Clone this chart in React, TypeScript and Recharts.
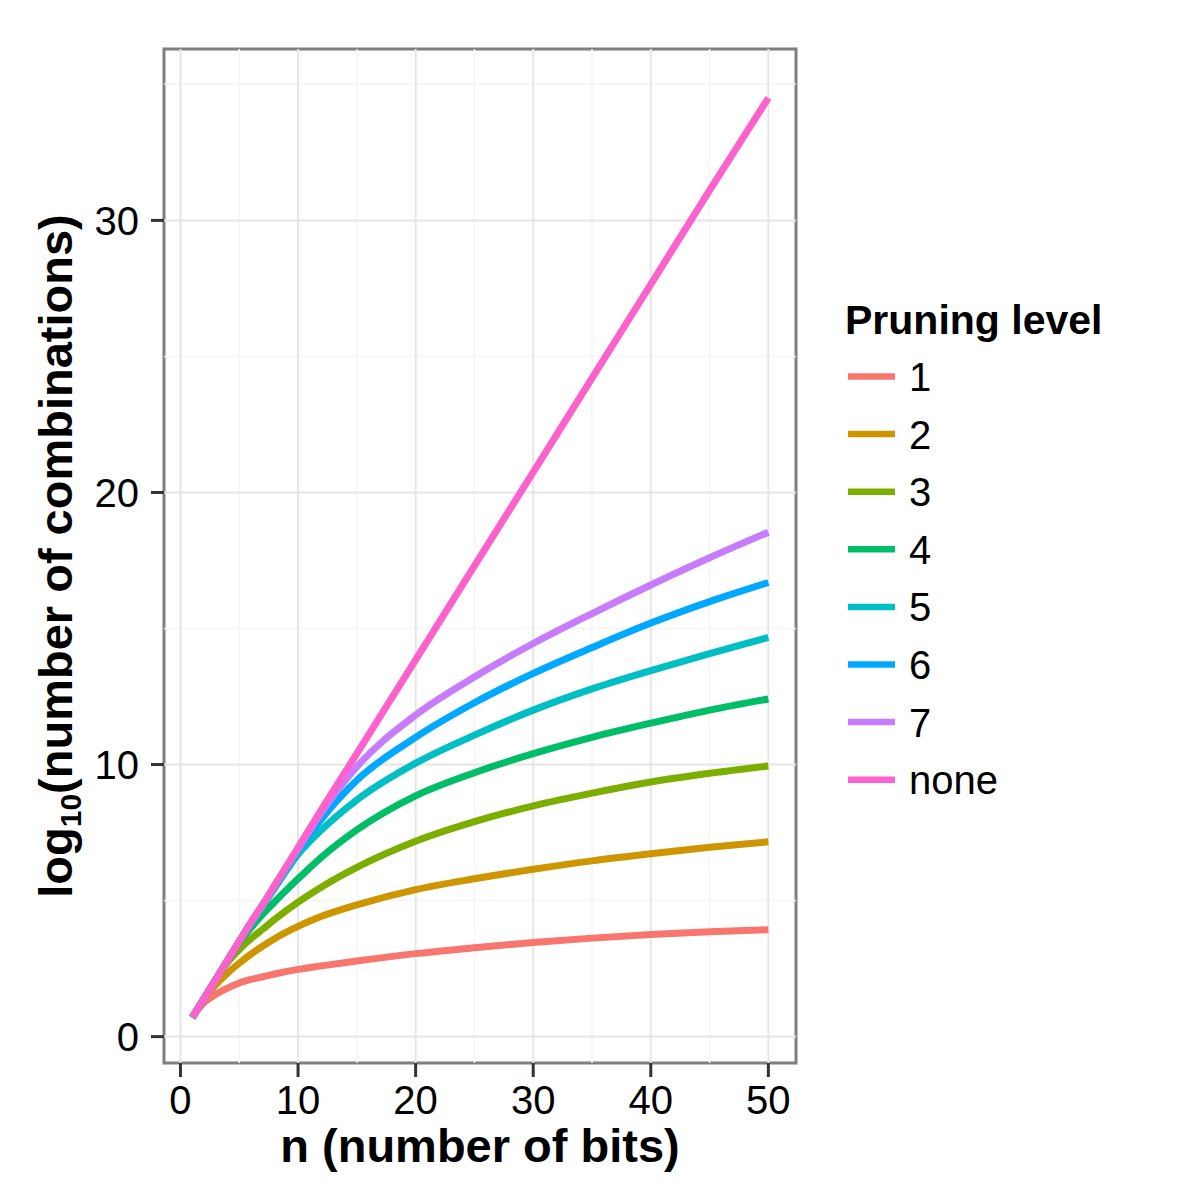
import React from 'react';
import { LineChart, Line, XAxis, YAxis, ReferenceLine, ReferenceArea, Label } from 'recharts';

const nBits = [1, 2, 3, 4, 5, 6, 7, 8, 10, 12, 15, 20, 25, 30, 35, 40, 45, 50];

const level1 = [0.7, 1.25, 1.55, 1.78, 1.97, 2.1, 2.2, 2.3, 2.47, 2.6, 2.78, 3.05, 3.27, 3.46, 3.62, 3.75, 3.85, 3.93];
const level2 = [0.7, 1.4, 1.9, 2.33, 2.7, 3.03, 3.33, 3.6, 4.05, 4.42, 4.84, 5.4, 5.8, 6.15, 6.46, 6.72, 6.96, 7.16];
const level3 = [0.7, 1.4, 2.1, 2.72, 3.2, 3.6, 3.95, 4.3, 4.94, 5.5, 6.22, 7.18, 7.9, 8.48, 8.95, 9.36, 9.68, 9.95];
const level4 = [0.7, 1.4, 2.1, 2.8, 3.45, 4.0, 4.5, 4.95, 5.8, 6.6, 7.6, 8.85, 9.7, 10.4, 11.0, 11.52, 12.0, 12.41];
const level5 = [0.7, 1.4, 2.1, 2.8, 3.5, 4.15, 4.8, 5.45, 6.7, 7.6, 8.7, 10.05, 11.08, 12.0, 12.78, 13.45, 14.08, 14.67];
const level6 = [0.7, 1.4, 2.1, 2.8, 3.5, 4.2, 4.85, 5.52, 6.85, 8.0, 9.42, 11.0, 12.27, 13.35, 14.3, 15.2, 15.99, 16.69];
const level7 = [0.7, 1.4, 2.1, 2.8, 3.5, 4.2, 4.85, 5.55, 6.9, 8.25, 9.92, 11.82, 13.22, 14.45, 15.55, 16.6, 17.6, 18.54];
const levelNone = [0.7, 1.4, 2.1, 2.8, 3.5, 4.2, 4.85, 5.55, 6.95, 8.35, 10.4, 13.85, 17.3, 20.75, 24.2, 27.65, 31.1, 34.5];

const levelNames = ['1', '2', '3', '4', '5', '6', '7', 'none'];
const levelColors = ['#F8766D', '#CD9600', '#7CAE00', '#00BE67', '#00BFC4', '#00A9FF', '#C77CFF', '#FF61CC'];
const levelValues = [level1, level2, level3, level4, level5, level6, level7, levelNone];

const xTicks = [0, 10, 20, 30, 40, 50];
const xMinor = [5, 15, 25, 35, 45];
const yTicks = [0, 10, 20, 30];
const yMinor = [5, 15, 25, 35];

const X_DOMAIN: [number, number] = [-1.4, 52.35];
const Y_DOMAIN: [number, number] = [-0.97, 36.3];

const chartData = nBits.map((n, i) => {
  const row: Record<string, number> = { n };
  levelValues.forEach((vals, k) => {
    row[`s${k}`] = vals[i];
  });
  return row;
});

const FONT = '"Liberation Sans", Arial, Helvetica, sans-serif';

function YTitle(props: any) {
  const vb = props.viewBox;
  const cx = 72;
  const cy = vb.y + vb.height / 2;
  return (
    <text
      x={cx}
      y={cy}
      transform={`rotate(-90, ${cx}, ${cy})`}
      textAnchor="middle"
      fontFamily={FONT}
      fontWeight="bold"
      fontSize={47}
      fill="#000"
    >
      log
      <tspan fontSize={30} dy={9}>10</tspan>
      <tspan dy={-9}>(number of combinations)</tspan>
    </text>
  );
}

function XTitle(props: any) {
  const vb = props.viewBox;
  return (
    <text
      x={vb.x + vb.width / 2}
      y={1162}
      textAnchor="middle"
      fontFamily={FONT}
      fontWeight="bold"
      fontSize={47}
      fill="#000"
    >
      n (number of bits)
    </text>
  );
}

function LegendBox() {
  return (
    <svg width={360} height={540} style={{ position: 'absolute', left: 830, top: 290 }}>
      <text x={15} y={44} fontFamily={FONT} fontWeight="bold" fontSize={41} fill="#000">
        Pruning level
      </text>
      {levelNames.map((name, i) => {
        const cy = 86.5 + i * 57.6;
        return (
          <g key={name}>
            <line x1={18} x2={65} y1={cy} y2={cy} stroke={levelColors[i]} strokeWidth={6.5} />
            <text x={79} y={cy} dy="0.36em" fontFamily={FONT} fontSize={40} fill="#000">
              {name}
            </text>
          </g>
        );
      })}
    </svg>
  );
}

export default function App() {
  return (
    <div style={{ position: 'absolute', left: 0, top: 0, width: 1200, height: 1200, background: '#fff' }}>
      <LineChart width={1200} height={1200} data={chartData} margin={{ top: 49, right: 404, bottom: 0, left: 0 }}>
        {yMinor.map(v => (
          <ReferenceLine key={`ym${v}`} y={v} stroke="#f5f5f5" strokeWidth={1.5} />
        ))}
        {xMinor.map(v => (
          <ReferenceLine key={`xm${v}`} x={v} stroke="#f5f5f5" strokeWidth={1.5} />
        ))}
        {yTicks.map(v => (
          <ReferenceLine key={`yM${v}`} y={v} stroke="#e6e6e6" strokeWidth={2} />
        ))}
        {xTicks.map(v => (
          <ReferenceLine key={`xM${v}`} x={v} stroke="#e6e6e6" strokeWidth={2} />
        ))}
        <XAxis
          type="number"
          dataKey="n"
          domain={X_DOMAIN}
          ticks={xTicks}
          allowDataOverflow
          height={137}
          axisLine={false}
          tickSize={14}
          tickMargin={9}
          tickLine={{ stroke: '#333', strokeWidth: 3 }}
          tick={{ fontSize: 40, fill: '#000', fontFamily: FONT }}
        >
          <Label content={XTitle} />
        </XAxis>
        <YAxis
          type="number"
          domain={Y_DOMAIN}
          ticks={yTicks}
          allowDataOverflow
          width={164}
          axisLine={false}
          tickSize={13}
          tickMargin={12}
          tickLine={{ stroke: '#333', strokeWidth: 3 }}
          tick={{ fontSize: 40, fill: '#000', fontFamily: FONT }}
        >
          <Label content={YTitle} />
        </YAxis>
        {levelNames.map((name, k) => (
          <Line
            key={name}
            type="monotone"
            dataKey={`s${k}`}
            name={name}
            stroke={levelColors[k]}
            strokeWidth={7}
            dot={false}
            activeDot={false}
            isAnimationActive={false}
          />
        ))}
        <ReferenceArea
          x1={X_DOMAIN[0]}
          x2={X_DOMAIN[1]}
          y1={Y_DOMAIN[0]}
          y2={Y_DOMAIN[1]}
          fill="none"
          fillOpacity={0}
          stroke="#7f7f7f"
          strokeWidth={3}
          ifOverflow="visible"
        />
      </LineChart>
      <LegendBox />
    </div>
  );
}
